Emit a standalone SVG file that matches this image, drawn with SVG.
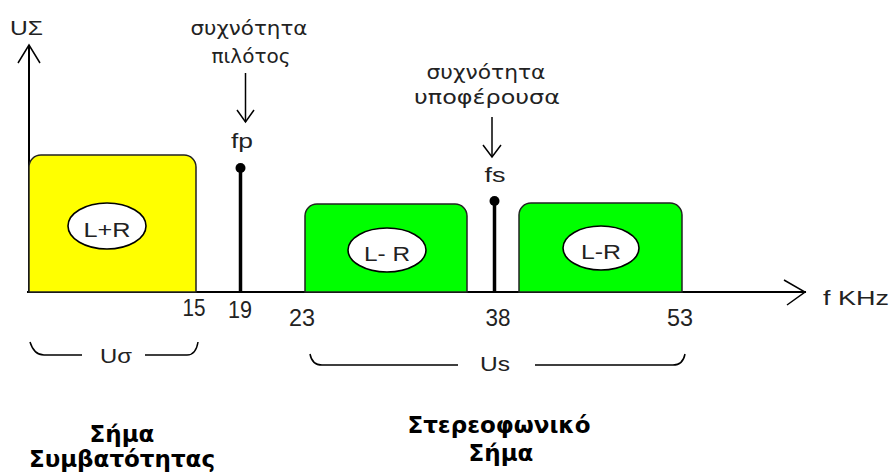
<svg xmlns="http://www.w3.org/2000/svg" width="894" height="474" viewBox="0 0 894 474">
  <style>
    .ax { stroke: #000; stroke-width: 2; fill: none; }
    .thin { stroke: #000; stroke-width: 1.5; fill: none; }
    .band { stroke: #222; stroke-width: 1.5; }
    .yellow { fill: #ffff00; }
    .green { fill: #00ff00; }
    .oval { fill: #fff; stroke: #000; stroke-width: 1.6; }
    .lbl { font-family: "Liberation Sans", Arial, sans-serif; font-size: 21px; fill: #222; }
    .num { font-family: "Liberation Sans", Arial, sans-serif; font-size: 23px; fill: #222; }
    .gr { font-family: "DejaVu Sans", "Liberation Sans", sans-serif; font-size: 20px; fill: #222; }
    .cap { font-family: "DejaVu Sans", "Liberation Sans", sans-serif; font-size: 23px; font-weight: bold; fill: #000; }
    .stem { stroke: #000; stroke-width: 3.5; }
  </style>

  <!-- axes -->
  <g id="axes">
    <line class="ax" x1="27" y1="292" x2="806" y2="292"/>
    <polyline class="thin" points="784,280 805,292 787,305"/>
    <line class="ax" x1="29" y1="45" x2="29" y2="292"/>
    <polyline class="thin" points="18,63 29,45 40,63"/>
    <text class="lbl" x="10" y="35" textLength="33" lengthAdjust="spacingAndGlyphs">UΣ</text>
    <text class="lbl" x="823" y="305" font-size="22" textLength="66" lengthAdjust="spacingAndGlyphs">f KHz</text>
  </g>

  <!-- compatible (L+R) band -->
  <g id="band-sum">
    <path class="band yellow" d="M29,292 V167 A12,12 0 0 1 41,155 H184 A12,12 0 0 1 196,167 V292 Z"/>
    <ellipse class="oval" cx="107" cy="226" rx="39" ry="23"/>
    <text class="lbl" x="107" y="237" text-anchor="middle" font-size="22" textLength="47" lengthAdjust="spacingAndGlyphs">L+R</text>
  </g>

  <!-- pilot tone -->
  <g id="pilot">
    <line class="stem" x1="240.5" y1="168" x2="240.5" y2="292"/>
    <circle cx="240.5" cy="168" r="5" fill="#000"/>
    <text class="lbl" x="242" y="148" text-anchor="middle" textLength="22" lengthAdjust="spacingAndGlyphs">fp</text>
    <text class="gr" x="249" y="35" text-anchor="middle" textLength="117" lengthAdjust="spacingAndGlyphs">συχνότητα</text>
    <text class="gr" x="251" y="63" text-anchor="middle" textLength="79" lengthAdjust="spacingAndGlyphs">πιλότος</text>
    <line class="thin" x1="245.5" y1="73" x2="245.5" y2="122"/>
    <polyline class="thin" points="237,110 245.5,122 254,110"/>
  </g>

  <!-- lower sideband -->
  <g id="band-lsb">
    <path class="band green" d="M305,292 V216 A12,12 0 0 1 317,204 H455 A12,12 0 0 1 467,216 V292 Z"/>
    <ellipse class="oval" cx="387" cy="250" rx="39" ry="22"/>
    <text class="lbl" x="387" y="261" text-anchor="middle" font-size="22" textLength="46" lengthAdjust="spacingAndGlyphs">L- R</text>
  </g>

  <!-- subcarrier -->
  <g id="subcarrier">
    <line class="stem" x1="494.5" y1="201" x2="494.5" y2="292"/>
    <circle cx="494.5" cy="201" r="5" fill="#000"/>
    <text class="lbl" x="495" y="182" text-anchor="middle" textLength="21" lengthAdjust="spacingAndGlyphs">fs</text>
    <text class="gr" x="486" y="79" text-anchor="middle" textLength="119" lengthAdjust="spacingAndGlyphs">συχνότητα</text>
    <text class="gr" x="487" y="104" text-anchor="middle" textLength="146" lengthAdjust="spacingAndGlyphs">υποφέρουσα</text>
    <line class="thin" x1="492" y1="117" x2="492" y2="157"/>
    <polyline class="thin" points="483,145 492,157 501,145"/>
  </g>

  <!-- upper sideband -->
  <g id="band-usb">
    <path class="band green" d="M519,292 V215 A12,12 0 0 1 531,203 H670 A12,12 0 0 1 682,215 V292 Z"/>
    <ellipse class="oval" cx="601" cy="248" rx="38" ry="22"/>
    <text class="lbl" x="601" y="259" text-anchor="middle" font-size="22" textLength="40" lengthAdjust="spacingAndGlyphs">L-R</text>
  </g>

  <!-- frequency ticks -->
  <g id="ticks">
    <text class="num" x="194" y="316" text-anchor="middle" textLength="23" lengthAdjust="spacingAndGlyphs">15</text>
    <text class="num" x="240" y="318" text-anchor="middle" textLength="24" lengthAdjust="spacingAndGlyphs">19</text>
    <text class="num" x="302" y="326" text-anchor="middle" textLength="26" lengthAdjust="spacingAndGlyphs">23</text>
    <text class="num" x="498" y="326" text-anchor="middle" textLength="25" lengthAdjust="spacingAndGlyphs">38</text>
    <text class="num" x="680" y="326" text-anchor="middle" textLength="26" lengthAdjust="spacingAndGlyphs">53</text>
  </g>

  <!-- span braces -->
  <g id="span-compat">
    <path class="thin" d="M30,342 Q34,355 44,355 H82"/>
    <path class="thin" d="M145,355 H187 Q196,355 198,342"/>
    <text class="lbl" x="116" y="363" text-anchor="middle" font-size="24" textLength="32" lengthAdjust="spacingAndGlyphs">Uσ</text>
  </g>
  <g id="span-stereo">
    <path class="thin" d="M310,354 Q312,365 322,365 H458"/>
    <path class="thin" d="M535,365 H673 Q683,365 685,354"/>
    <text class="lbl" x="495" y="371" text-anchor="middle" font-size="24" textLength="30" lengthAdjust="spacingAndGlyphs">Us</text>
  </g>

  <!-- captions -->
  <g id="caption-compat">
    <text class="cap" x="122" y="442" text-anchor="middle">Σήμα</text>
    <text class="cap" x="122" y="467" text-anchor="middle">Συμβατότητας</text>
  </g>
  <g id="caption-stereo">
    <text class="cap" x="499" y="433" text-anchor="middle">Στερεοφωνικό</text>
    <text class="cap" x="501" y="461" text-anchor="middle">Σήμα</text>
  </g>
</svg>
